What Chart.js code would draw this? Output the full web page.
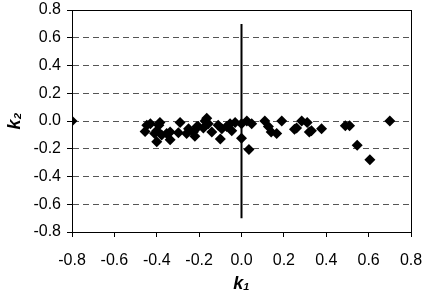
<!DOCTYPE html>
<html>
<head>
<meta charset="utf-8">
<script src="https://cdn.jsdelivr.net/npm/chart.js@4/dist/chart.umd.min.js"></script>
<style>
  html, body { margin: 0; padding: 0; background: #fff; }
  #wrap { width: 425px; height: 307px; }
</style>
</head>
<body>
<div id="wrap"><canvas id="kChart"></canvas></div>
<script>
// k1 / k2 values
const k1 = [-0.80, 0.70, 0.606, 0.546, 0.49, 0.51, 0.378, 0.33, 0.31, 0.284, 0.26, 0.25,
  0.19, 0.166, 0.14, 0.127, 0.11, 0.048, 0.025, 0.0, 0.0, 0.035, -0.03, -0.046, -0.054,
  -0.093, -0.11, -0.10, -0.14, -0.157, -0.164, -0.172, -0.18, -0.204, -0.21, -0.227,
  -0.22, -0.25, -0.259, -0.29, -0.298, -0.337, -0.337, -0.353, -0.377, -0.385, -0.39,
  -0.40, -0.40, -0.41, -0.43, -0.447, -0.455, 0.32, -0.07];
const k2 = [0.0, 0.0, -0.28, -0.175, -0.035, -0.035, -0.055, -0.07, -0.01, 0.0, -0.05, -0.06,
  0.0, -0.09, -0.08, -0.04, 0.0, -0.02, 0.0, -0.02, -0.125, -0.205, -0.01, -0.07, -0.02,
  -0.055, -0.03, -0.13, -0.08, -0.02, 0.02, 0.0, -0.05, -0.04, -0.04, -0.08,
  -0.11, -0.055, -0.09, -0.01, -0.085, -0.08, -0.135, -0.09, -0.10, -0.01, -0.03,
  -0.07, -0.15, -0.09, -0.02, -0.03, -0.075, -0.08, -0.04];
// vertical reference line at k1 = 0
const refX = [0, 0];
const refY = [0.7, -0.7];
const axisMin = -0.8, axisMax = 0.8, axisStep = 0.2;

const points = k1.map((x, i) => ({ x: x, y: k2[i] }));
const refLine = refX.map((x, i) => ({ x: x, y: refY[i] }));

function fmt(v) {
    const s = Math.abs(v) < 1e-9 ? 0 : v;
    return s.toFixed(1);
}

// solid box round the plot area
const frame = {
    id: 'frame',
    afterDraw(chart) {
        const a = chart.chartArea;
        const ctx = chart.ctx;
        ctx.save();
        ctx.strokeStyle = '#000';
        ctx.lineWidth = 1;
        ctx.setLineDash([]);
        ctx.strokeRect(Math.round(a.left) + 0.5, Math.round(a.top) + 0.5,
            Math.round(a.right - a.left), Math.round(a.bottom - a.top));
        ctx.restore();
    }
};

const ctx = document.getElementById('kChart').getContext('2d');
const kChart = new Chart(ctx, {
    type: 'scatter',
    data: {
        datasets: [{
            data: refLine,
            showLine: true,
            borderColor: '#000',
            borderWidth: 2,
            pointRadius: 0,
            order: 2
        }, {
            data: points,
            pointStyle: 'rectRot',
            pointRadius: 5.5,
            backgroundColor: '#000',
            borderColor: '#000',
            borderWidth: 0,
            order: 1
        }]
    },
    options: {
        responsive: true,
        maintainAspectRatio: false,
        animation: false,
        layout: { padding: { top: 10, right: 14, left: 0, bottom: 0 } },
        plugins: { legend: { display: false }, tooltip: { enabled: false } },
        scales: {
            x: {
                type: 'linear',
                min: axisMin,
                max: axisMax,
                afterFit: s => { s.height = 75; s.paddingLeft = 0; s.paddingRight = 0; },
                ticks: { stepSize: axisStep, callback: fmt, color: '#000', padding: 14,
                    maxRotation: 0, font: { family: 'Liberation Sans', size: 16 } },
                grid: { drawOnChartArea: false, drawTicks: true, tickLength: 5, color: '#000' },
                border: { color: '#000' },
                title: { display: true, text: 'k₁', color: '#000',
                    font: { family: 'Liberation Sans', size: 18, weight: 'bold', style: 'italic' },
                    padding: { top: 4, bottom: 12 } }
            },
            y: {
                type: 'linear',
                min: axisMin,
                max: axisMax,
                afterFit: s => { s.width = 72; s.paddingTop = 0; s.paddingBottom = 0; },
                ticks: { stepSize: axisStep, callback: fmt, color: '#000', padding: 6,
                    font: { family: 'Liberation Sans', size: 16 } },
                grid: {
                    color: c => (Math.abs(c.tick.value) > 0.79 ? 'rgba(0,0,0,0)' : '#555'),
                    tickColor: '#000',
                    borderDash: [6, 4],
                    tickBorderDash: [],
                    tickLength: 5
                },
                border: { color: '#000', dash: [6, 4] },
                title: { display: true, text: 'k₂', color: '#000',
                    font: { family: 'Liberation Sans', size: 18, weight: 'bold', style: 'italic' },
                    padding: { top: 4, bottom: 4 } }
            }
        }
    },
    plugins: [frame]
});
</script>
</body>
</html>
